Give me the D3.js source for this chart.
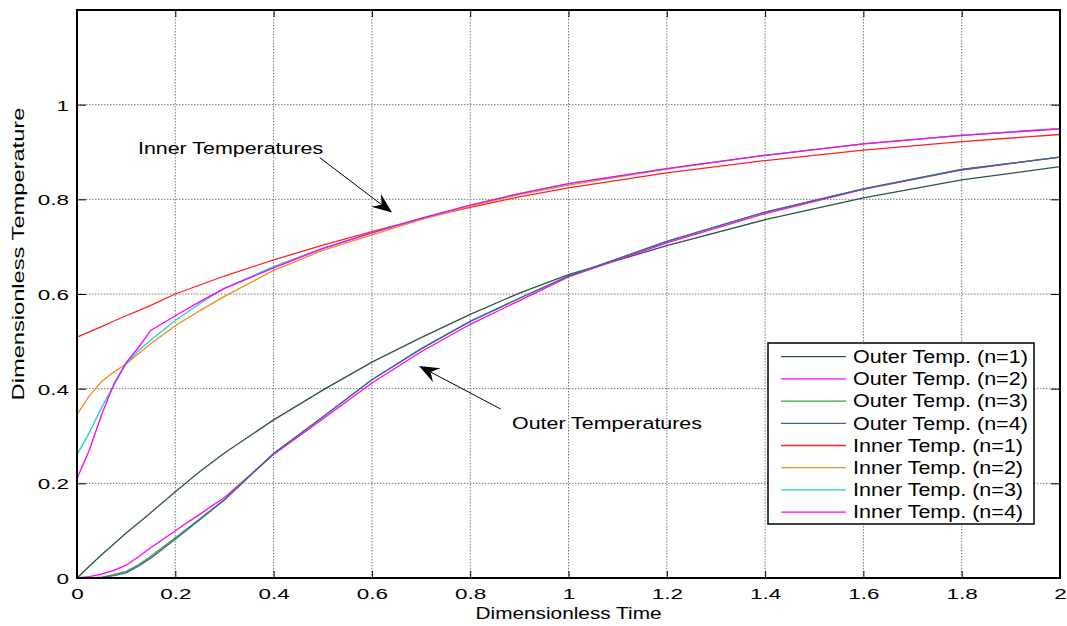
<!DOCTYPE html>
<html><head><meta charset="utf-8">
<script src="https://cdn.jsdelivr.net/npm/d3@7"></script>
<style>body{margin:0;background:#fff}svg{display:block}text{font-family:"Liberation Sans",Arial,sans-serif;fill:#000}</style>
</head><body>
<svg id="chart" width="1067" height="626"></svg>
<script>
const times = [0,0.025,0.05,0.075,0.1,0.125,0.15,0.2,0.25,0.3,0.4,0.5,0.6,0.7,0.8,0.9,1.0,1.2,1.4,1.6,1.8,2.0];
const outer1 = [0,0.025,0.049,0.072,0.095,0.116,0.138,0.182,0.225,0.264,0.334,0.397,0.456,0.508,0.557,0.602,0.641,0.702,0.757,0.803,0.841,0.869];
const outer2 = [0,0.003,0.008,0.016,0.027,0.045,0.064,0.100,0.135,0.170,0.261,0.336,0.412,0.478,0.536,0.586,0.636,0.708,0.770,0.821,0.862,0.889];
const outer3 = [0,0,0.002,0.007,0.014,0.028,0.046,0.085,0.125,0.166,0.263,0.340,0.419,0.484,0.542,0.591,0.638,0.711,0.773,0.822,0.863,0.889];
const outer4 = [0,0,0.001,0.005,0.011,0.025,0.042,0.082,0.123,0.165,0.263,0.340,0.419,0.484,0.542,0.591,0.638,0.711,0.773,0.822,0.863,0.889];
const inner1 = [0.509,0.520,0.531,0.543,0.554,0.565,0.576,0.600,0.619,0.638,0.672,0.703,0.732,0.759,0.783,0.805,0.824,0.856,0.882,0.904,0.922,0.937];
const inner2 = [0.345,0.385,0.415,0.435,0.452,0.474,0.495,0.533,0.565,0.595,0.650,0.692,0.725,0.757,0.785,0.810,0.830,0.864,0.893,0.917,0.935,0.950];
const inner3 = [0.260,0.307,0.360,0.407,0.453,0.480,0.503,0.544,0.580,0.612,0.658,0.697,0.729,0.760,0.788,0.812,0.833,0.865,0.893,0.917,0.935,0.949];
const inner4 = [0.210,0.270,0.345,0.410,0.455,0.487,0.523,0.554,0.584,0.612,0.655,0.696,0.729,0.760,0.788,0.812,0.833,0.865,0.893,0.917,0.935,0.949];
const seriesNames = ["Outer Temp. (n=1)","Outer Temp. (n=2)","Outer Temp. (n=3)","Outer Temp. (n=4)","Inner Temp. (n=1)","Inner Temp. (n=2)","Inner Temp. (n=3)","Inner Temp. (n=4)"];
const seriesValues = [outer1,outer2,outer3,outer4,inner1,inner2,inner3,inner4];
const seriesColors = ["#2e5249","#ff00ff","#35a835","#4a5f9e","#ff2222","#f08c1e","#1fd0d0","#ff00ff"];
const xTicks = [0,0.2,0.4,0.6,0.8,1,1.2,1.4,1.6,1.8,2];
const yTicks = [0,0.2,0.4,0.6,0.8,1];
const annotations = [
  {label:"Inner Temperatures", tx:0.124, ty:0.896, x1:0.494, y1:0.888, x2:0.641, y2:0.772},
  {label:"Outer Temperatures", tx:0.885, ty:0.315, x1:0.862, y1:0.357, x2:0.696, y2:0.448}
];

const svg = d3.select("#chart");
const L=77, T=10, R=1060, B=578;
const x = d3.scaleLinear().domain([0,2]).range([L,R]);
const y = d3.scaleLinear().domain([0,1.2]).range([B,T]);

// grid
const g = svg.append("g");
g.selectAll(".gx").data(xTicks.filter(d=>d>0&&d<2)).enter().append("line")
  .attr("x1",d=>x(d)).attr("x2",d=>x(d)).attr("y1",T).attr("y2",B)
  .attr("stroke","#7a7a7a").attr("stroke-width",1).attr("stroke-dasharray","1.5,1.5");
g.selectAll(".gy").data(yTicks.filter(d=>d>0)).enter().append("line")
  .attr("y1",d=>y(d)).attr("y2",d=>y(d)).attr("x1",L).attr("x2",R)
  .attr("stroke","#7a7a7a").attr("stroke-width",1).attr("stroke-dasharray","1.5,1.5");

// axes (ticks inward, labels)
const xAxis = d3.axisBottom(x).tickValues(xTicks).tickSize(-7).tickPadding(0).tickFormat(d3.format("~g"));
const xa = svg.append("g").attr("transform",`translate(0,${B})`).call(xAxis);
xa.select(".domain").remove();
xa.selectAll(".tick line").attr("stroke","#000").attr("stroke-width",1);
xa.selectAll(".tick text").attr("font-size",15.5).attr("y",21).attr("dy",0).attr("x",0)
  .attr("transform","scale(1.45,1)").attr("font-family","Liberation Sans, Arial, sans-serif");

const xTop = d3.axisTop(x).tickValues(xTicks).tickSize(-7).tickFormat("");
const xt = svg.append("g").attr("transform",`translate(0,${T})`).call(xTop);
xt.select(".domain").remove(); xt.selectAll(".tick line").attr("stroke","#000");

const yAxis = d3.axisLeft(y).tickValues(yTicks).tickSize(-9).tickPadding(0).tickFormat(d3.format("~g"));
const ya = svg.append("g").attr("transform",`translate(${L},0)`).call(yAxis);
ya.select(".domain").remove();
ya.selectAll(".tick line").attr("stroke","#000");
ya.selectAll(".tick text").attr("font-size",15.5).attr("x",0).attr("dy","0.36em")
  .attr("text-anchor","end").attr("transform","translate(-8,0) scale(1.45,1)")
  .attr("font-family","Liberation Sans, Arial, sans-serif");

const yRight = d3.axisRight(y).tickValues(yTicks.concat([1.2])).tickSize(-9).tickFormat("");
const yr = svg.append("g").attr("transform",`translate(${R},0)`).call(yRight);
yr.select(".domain").remove(); yr.selectAll(".tick line").attr("stroke","#000");

// lines
const line = d3.line().x((d,i)=>x(times[i])).y(d=>y(d));
svg.append("g").selectAll("path").data(seriesValues).enter().append("path")
  .attr("d",d=>line(d)).attr("fill","none")
  .attr("stroke",(d,i)=>seriesColors[i]).attr("stroke-width",1.3);

// frame
svg.append("rect").attr("x",L).attr("y",T).attr("width",R-L).attr("height",B-T)
  .attr("fill","none").attr("stroke","#000").attr("stroke-width",2);

// axis titles
svg.append("text").attr("text-anchor","middle").attr("font-size",16)
  .attr("transform",`translate(${(L+R)/2},619) scale(1.3,1)`).text("Dimensionless Time");
svg.append("text").attr("text-anchor","middle").attr("font-size",16)
  .attr("transform",`translate(24,${(T+B)/2 - 40}) rotate(-90) scale(1.48,1)`).text("Dimensionless Temperature");

// annotations
annotations.forEach(a=>{
  svg.append("text").attr("font-size",17)
    .attr("transform",`translate(${x(a.tx)},${y(a.ty)}) scale(1.26,1)`).text(a.label);
  const X1=x(a.x1),Y1=y(a.y1),X2=x(a.x2),Y2=y(a.y2);
  const ang=Math.atan2(Y2-Y1,X2-X1), len=20, hw=8, notch=13;
  const ux=Math.cos(ang), uy=Math.sin(ang), px=-uy, py=ux;
  svg.append("line").attr("x1",X1).attr("y1",Y1).attr("x2",X2-ux*notch).attr("y2",Y2-uy*notch)
    .attr("stroke","#000").attr("stroke-width",1);
  const pts=[[X2,Y2],[X2-ux*len+px*hw,Y2-uy*len+py*hw],[X2-ux*notch,Y2-uy*notch],[X2-ux*len-px*hw,Y2-uy*len-py*hw]];
  svg.append("polygon").attr("points",pts.map(p=>p.join(",")).join(" ")).attr("fill","#000");
});

// legend
const lg = svg.append("g");
const LX=768, LY=343, LW=266, LH=181;
lg.append("rect").attr("x",LX).attr("y",LY).attr("width",LW).attr("height",LH)
  .attr("fill","#fff").attr("stroke","#000").attr("stroke-width",1.5);
seriesNames.forEach((n,i)=>{
  const cy = 356.7 + i*22.2;
  lg.append("line").attr("x1",781).attr("x2",846).attr("y1",cy).attr("y2",cy)
    .attr("stroke",seriesColors[i]).attr("stroke-width",1.3);
  lg.append("text").attr("font-size",17.5).attr("dy","0.36em")
    .attr("transform",`translate(853,${cy}) scale(1.23,1)`).text(n);
});
</script>
</body></html>
